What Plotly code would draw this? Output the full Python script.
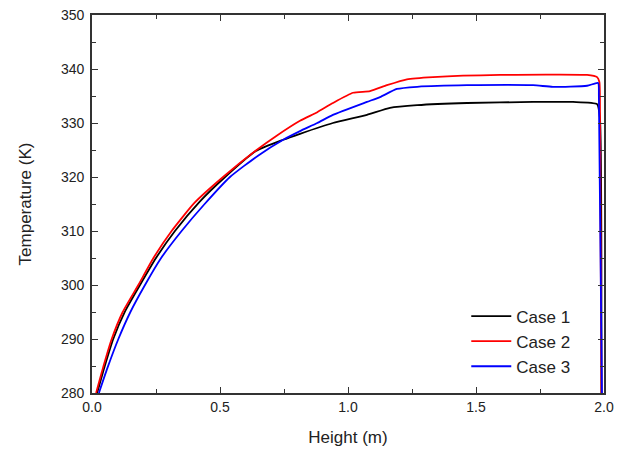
import plotly.graph_objects as go

# Case 1 (black)
case1_x = [0.020, 0.050, 0.083, 0.13, 0.1875, 0.25, 0.324, 0.42, 0.52, 0.64, 0.747, 0.8125, 0.941,
           1.074, 1.164, 1.27, 1.465, 1.723, 1.879, 1.973, 1.984, 1.990]
case1_y = [280.0, 285.0, 290.0, 295.2, 300.0, 305.0, 310.0, 315.4, 320.0, 324.8, 326.9, 328.0, 330.0,
           331.5, 332.8, 333.3, 333.7, 333.9, 333.9, 333.5, 331.0, 280.0]

# Case 2 (red)
case2_x = [0.016, 0.045, 0.077, 0.12, 0.181, 0.24, 0.311, 0.40, 0.512, 0.643, 0.72, 0.8125, 0.88, 0.941,
           1.02, 1.086, 1.152, 1.23, 1.332, 1.594, 1.934, 1.973, 1.982, 1.984, 1.990]
case2_y = [280.0, 285.0, 290.0, 295.0, 300.0, 305.0, 310.0, 315.2, 320.0, 325.0, 327.6, 330.4, 332.0, 333.7,
           335.6, 335.9, 337.0, 338.1, 338.5, 338.9, 338.9, 338.5, 337.6, 335.0, 280.0]

# Case 3 (blue)
case3_x = [0.027, 0.06, 0.103, 0.15, 0.207, 0.27, 0.35, 0.44, 0.539, 0.65, 0.747, 0.8125, 0.88, 0.941,
           1.074, 1.125, 1.191, 1.27, 1.465, 1.723, 1.80, 1.934, 1.977, 1.980, 1.992]
case3_y = [280.0, 284.6, 290.0, 295.0, 300.0, 305.0, 310.0, 315.0, 320.0, 324.0, 326.9, 328.5, 330.0, 331.5,
           333.9, 334.8, 336.3, 336.7, 337.0, 337.0, 336.7, 336.9, 337.4, 335.0, 280.0]

series = [("Case 1", case1_x, case1_y, "black"),
          ("Case 2", case2_x, case2_y, "#ff0000"),
          ("Case 3", case3_x, case3_y, "#0000ff")]

x_ticks = [0.0, 0.5, 1.0, 1.5, 2.0]
x_tick_labels = ["0.0", "0.5", "1.0", "1.5", "2.0"]
y_ticks = [280, 290, 300, 310, 320, 330, 340, 350]

FONT = "Liberation Sans, Arial, sans-serif"

fig = go.Figure()
for name, xs, ys, col in series:
    fig.add_trace(go.Scatter(x=xs, y=ys, mode="lines", name=name,
                             line=dict(color=col, width=1.8, shape="spline", smoothing=0.5)))

axis_common = dict(showline=True, linecolor="#333333", linewidth=1.6, mirror="ticks",
                   ticks="inside", ticklen=6, tickwidth=1.4, tickcolor="#333333",
                   showgrid=False, zeroline=False, automargin=False, ticklabeloverflow="allow",
                   tickfont=dict(family=FONT, size=14, color="#222222"),
                   title_font=dict(family=FONT, size=17, color="#222222"))

fig.update_xaxes(range=[0, 2.0], tickvals=x_ticks, ticktext=x_tick_labels,
                 minor=dict(ticks="inside", ticklen=4, tickwidth=1.2, tickcolor="#333333", dtick=0.25),
                 title_text="Height (m)", title_standoff=18, **axis_common)
fig.update_yaxes(range=[280, 350], tickvals=y_ticks, ticklabelstandoff=3,
                 minor=dict(ticks="inside", ticklen=4, tickwidth=1.2, tickcolor="#333333", dtick=5),
                 title_text="Temperature (K)", title_standoff=25, **axis_common)

fig.update_layout(
    width=619, height=443,
    margin=dict(l=84, r=23, t=7, b=58),
    plot_bgcolor="white", paper_bgcolor="white",
    font=dict(family=FONT, color="#222222"),
    legend=dict(x=0.731, y=0.25, xanchor="left", yanchor="top",
                bgcolor="rgba(0,0,0,0)", font=dict(size=17, color="#222222"),
                itemwidth=40, tracegroupgap=0),
)

fig.write_html("out.html")
